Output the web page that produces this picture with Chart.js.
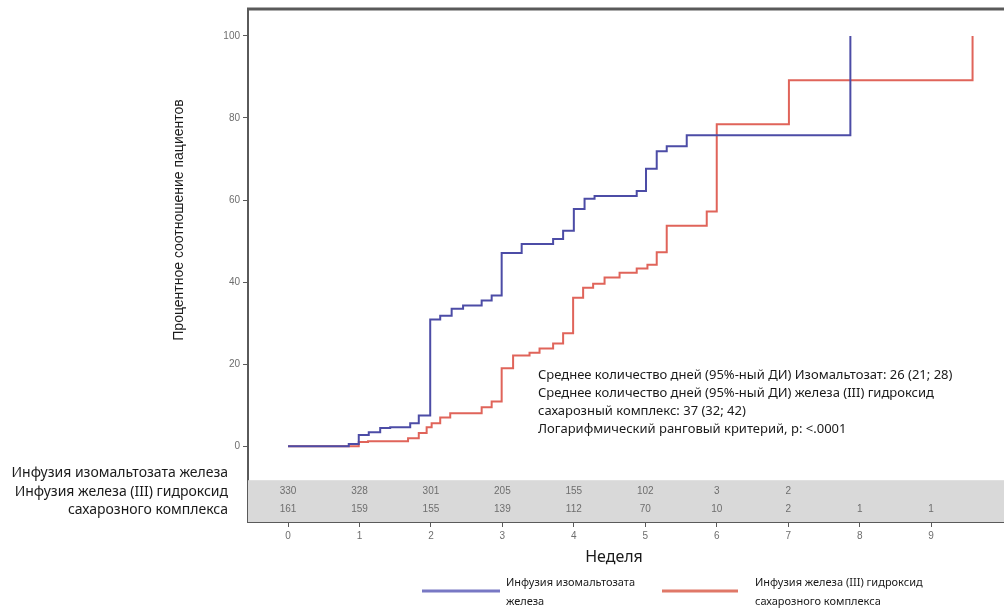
<!DOCTYPE html>
<html>
<head>
<meta charset="utf-8">
<script src="https://cdn.jsdelivr.net/npm/chart.js@4"></script>
<style>
  html, body { margin: 0; padding: 0; background: #fff; }
  #wrap { width: 1004px; height: 612px; }
</style>
</head>
<body>
<div id="wrap"><canvas id="km"></canvas></div>
<script>
// Kaplan-Meier: изомальтозат железа (синяя) vs железа (III) гидроксид сахарозный комплекс (красная)
const blueWeeks = [0, 0.85, 0.99, 1.13, 1.29, 1.43, 1.71, 1.83, 1.99, 2.13, 2.29, 2.45, 2.71, 2.85, 2.99, 3.27, 3.71, 3.85, 4.0, 4.15, 4.29, 4.88, 5.01, 5.16, 5.30, 5.58, 7.87];
const bluePct   = [0, 0.5, 2.7, 3.4, 4.4, 4.6, 5.6, 7.5, 30.9, 31.8, 33.5, 34.3, 35.5, 36.7, 47.1, 49.3, 50.5, 52.5, 57.8, 60.3, 61.0, 62.2, 67.6, 71.9, 73.1, 75.8, 100];

const redWeeks = [0, 0.99, 1.12, 1.68, 1.83, 1.94, 2.01, 2.13, 2.27, 2.71, 2.85, 2.99, 3.15, 3.38, 3.52, 3.71, 3.85, 3.99, 4.13, 4.27, 4.43, 4.64, 4.88, 5.03, 5.16, 5.30, 5.86, 6.0, 7.01, 9.58];
const redPct   = [0, 1.0, 1.2, 1.9, 3.2, 4.6, 5.6, 7.0, 8.0, 9.5, 10.9, 19.0, 22.1, 22.8, 23.8, 25.0, 27.5, 36.2, 38.6, 39.6, 41.1, 42.3, 43.3, 44.2, 47.3, 53.7, 57.2, 78.5, 89.2, 100];

// число пациентов под риском
const riskWeeks = [0, 1, 2, 3, 4, 5, 6, 7, 8, 9];
const riskIso = [330, 328, 301, 205, 155, 102, 3, 2, null, null];
const riskSuc = [161, 159, 155, 139, 112, 70, 10, 2, 1, 1];

const xTicks = [0, 1, 2, 3, 4, 5, 6, 7, 8, 9];
const yTicks = [0, 20, 40, 60, 80, 100];

const seriesNames = [
  ["Инфузия изомальтозата", "железа"],
  ["Инфузия железа (III) гидроксид", "сахарозного комплекса"]
];
const rowLabels = ["Инфузия изомальтозата железа", "Инфузия железа (III) гидроксид", "сахарозного комплекса"];
const noteLines = [
  "Среднее количество дней (95%-ный ДИ) Изомальтозат: 26 (21; 28)",
  "Среднее количество дней (95%-ный ДИ) железа (III) гидроксид",
  "сахарозный комплекс: 37 (32; 42)",
  "Логарифмический ранговый критерий, p: <.0001"
];
const yTitle = "Процентное соотношение пациентов";
const xTitle = "Неделя";

const BLUE = "#4c4ca6";
const RED = "#e0645a";
const TEXT = "#1a1a1a";
const TICK = "#6e6e6e";
const FRAME = "#5a5a5a";

const toPoints = (xs, ys) => xs.map((x, i) => ({ x: x, y: ys[i] }));

const extras = {
  id: "extras",
  beforeDatasetsDraw(chart) {
    const { ctx, chartArea: a, scales: { y } } = chart;
    // серая полоса таблицы риска
    const bandTop = y.getPixelForValue(-8.3);
    ctx.save();
    ctx.fillStyle = "#d9d9d9";
    ctx.fillRect(a.left, bandTop, a.right - a.left, a.bottom - bandTop);
    ctx.restore();
  },
  afterDraw(chart) {
    const { ctx, chartArea: a, scales: { x } } = chart;
    ctx.save();
    // верхняя рамка
    ctx.strokeStyle = FRAME;
    ctx.lineWidth = 3;
    ctx.beginPath();
    ctx.moveTo(a.left - 1, a.top);
    ctx.lineTo(a.right, a.top);
    ctx.stroke();

    // числа под риском
    ctx.font = "10px 'Liberation Sans Narrow', 'Liberation Sans', sans-serif";
    ctx.fillStyle = TICK;
    ctx.textAlign = "center";
    ctx.textBaseline = "middle";
    riskWeeks.forEach((w, i) => {
      const px = x.getPixelForValue(w);
      if (riskIso[i] != null) ctx.fillText(String(riskIso[i]), px, a.bottom - 31);
      if (riskSuc[i] != null) ctx.fillText(String(riskSuc[i]), px, a.bottom - 13);
    });

    // название оси Y
    ctx.fillStyle = TEXT;
    ctx.save();
    ctx.translate(179, 220);
    ctx.rotate(-Math.PI / 2);
    ctx.font = "14px 'Liberation Sans', sans-serif";
    ctx.fillText(yTitle, 0, 0);
    ctx.restore();

    // подписи строк слева
    ctx.font = "14px 'Noto Sans', sans-serif";
    ctx.textAlign = "right";
    ctx.fillText(rowLabels[0], 228, 473);
    ctx.fillText(rowLabels[1], 228, 492);
    ctx.fillText(rowLabels[2], 228, 510);

    // пояснение
    ctx.font = "13px 'Noto Sans', sans-serif";
    ctx.textAlign = "left";
    noteLines.forEach((t, i) => ctx.fillText(t, 538, 375 + i * 18));

    // название оси X
    ctx.font = "16px 'Noto Sans', sans-serif";
    ctx.textAlign = "center";
    ctx.fillText(xTitle, 614, 557);

    // легенда
    const legend = [
      { color: "#7878c4", x0: 422, x1: 500, tx: 506 },
      { color: "#e07868", x0: 662, x1: 738, tx: 755 }
    ];
    legend.forEach((l, i) => {
      ctx.strokeStyle = l.color;
      ctx.lineWidth = 3;
      ctx.beginPath();
      ctx.moveTo(l.x0, 591);
      ctx.lineTo(l.x1, 591);
      ctx.stroke();
      ctx.font = "11px 'Noto Sans', sans-serif";
      ctx.fillStyle = TEXT;
      ctx.textAlign = "left";
      ctx.fillText(seriesNames[i][0], l.tx, 583);
      ctx.fillText(seriesNames[i][1], l.tx, 602);
    });
    ctx.restore();
  }
};

new Chart(document.getElementById("km"), {
  type: "line",
  data: {
    datasets: [
      {
        label: seriesNames[0].join(" "),
        data: toPoints(blueWeeks, bluePct),
        borderColor: BLUE,
        borderWidth: 2,
        stepped: "before",
        pointRadius: 0,
        fill: false
      },
      {
        label: seriesNames[1].join(" "),
        data: toPoints(redWeeks, redPct),
        borderColor: RED,
        borderWidth: 2,
        stepped: "before",
        pointRadius: 0,
        fill: false
      }
    ]
  },
  options: {
    responsive: true,
    maintainAspectRatio: false,
    animation: false,
    layout: { padding: { left: 170, top: 8, right: 0, bottom: 0 } },
    plugins: {
      legend: { display: false },
      tooltip: { enabled: false }
    },
    scales: {
      x: {
        type: "linear",
        min: -0.56,
        max: 10.02,
        afterFit: (s) => { s.height = 90; },
        afterBuildTicks: (s) => { s.ticks = xTicks.map(v => ({ value: v })); },
        grid: { drawOnChartArea: false, drawTicks: true, tickLength: 5, color: FRAME },
        border: { color: FRAME, width: 2 },
        ticks: {
          color: TICK,
          padding: 3,
          maxRotation: 0,
          font: { size: 10, family: "'Liberation Sans Narrow', 'Liberation Sans', sans-serif" }
        }
      },
      y: {
        type: "linear",
        min: -18.49,
        max: 106.57,
        afterFit: (s) => { s.width = 78; },
        afterBuildTicks: (s) => { s.ticks = yTicks.map(v => ({ value: v })); },
        grid: { drawOnChartArea: false, drawTicks: true, tickLength: 5, color: FRAME },
        border: { color: FRAME, width: 2 },
        ticks: {
          color: TICK,
          padding: 3,
          font: { size: 10, family: "'Liberation Sans Narrow', 'Liberation Sans', sans-serif" }
        }
      }
    }
  },
  plugins: [extras]
});
</script>
</body>
</html>
